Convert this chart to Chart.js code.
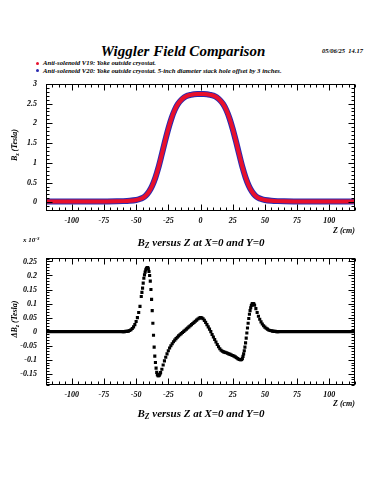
<!DOCTYPE html>
<html>
<head>
<meta charset="utf-8">
<script src="https://cdn.jsdelivr.net/npm/chart.js@4.4.0/dist/chart.umd.min.js"></script>
<style>
  body { margin: 0; background: #fff; width: 375px; height: 500px; position: relative; overflow: hidden;
         font-family: "Liberation Serif", "DejaVu Serif", serif; font-style: italic; font-weight: bold; color: #000; }
  .txt { position: absolute; white-space: nowrap; line-height: 1; }
  .c { transform: translate(-50%, -50%); }
  .dot { position: absolute; width: 3px; height: 3px; border-radius: 50%; }
  canvas { position: absolute; left: 0; }
  sub { font-size: 70%; vertical-align: -0.3em; }
  sup { font-size: 70%; vertical-align: 0.5em; }
</style>
</head>
<body>
<div class="txt c" style="left:183px; top:51px; font-size:15px;">Wiggler Field Comparison</div>
<div class="txt" style="left:322px; top:48px; font-size:6.5px;">05/06/25 &nbsp;14.17</div>

<div class="dot" style="left:36px; top:61.5px; background:#e8102c;"></div>
<div class="txt" style="left:43px; top:60px; font-size:6.7px;">Anti-solenoid V19: Yoke outside cryostat.</div>
<div class="dot" style="left:36px; top:69px; background:#2a2ab0;"></div>
<div class="txt" style="left:43px; top:67.5px; font-size:6.7px;">Anti-solenoid V20: Yoke outside cryostat. 5-inch diameter stack hole offset by 3 inches.</div>

<canvas id="topChart" width="375" height="160" style="top:70px;"></canvas>
<canvas id="botChart" width="375" height="160" style="top:244px;"></canvas>

<div class="txt c" style="left:16px; top:145px; font-size:8px; transform: translate(-50%,-50%) rotate(-90deg);">B<sub>z</sub> (Tesla)</div>
<div class="txt c" style="left:16px; top:319px; font-size:8px; transform: translate(-50%,-50%) rotate(-90deg);">&Delta;B<sub>z</sub> (Tesla)</div>

<div class="txt" style="right:20px; top:227px; font-size:8px;">Z (cm)</div>
<div class="txt c" style="left:201px; top:243px; font-size:11px;">B<sub>Z</sub> versus Z at X=0 and Y=0</div>
<div class="txt" style="left:23px; top:237px; font-size:7px;">x 10<sup>-3</sup></div>

<div class="txt" style="right:20px; top:400px; font-size:8px;">Z (cm)</div>
<div class="txt c" style="left:201px; top:414px; font-size:11px;">B<sub>Z</sub> versus Z at X=0 and Y=0</div>

<script>
// axis ticks
const xTicks = [-100, -75, -50, -25, 0, 25, 50, 75, 100];
const topYTicks = [0, 0.5, 1, 1.5, 2, 2.5, 3];
const botYTicks = [-0.15, -0.1, -0.05, 0, 0.05, 0.1, 0.15, 0.2, 0.25];

// top plot: Bz (Tesla) vs Z (cm)
const zTop = [-120, -100, -80, -65, -60, -55, -50,
  -47.5, -45, -42.5, -40, -37.5, -35, -32.5, -30, -27.5, -25, -22.5, -20, -17.5, -15, -12.5, -10, -7.5, -5, -2.5,
  0,
  2.5, 5, 7.5, 10, 12.5, 15, 17.5, 20, 22.5, 25, 27.5, 30, 32.5, 35, 37.5, 40, 42.5, 45, 47.5,
  50, 55, 60, 65, 80, 100, 120];
const bzV19 = [0.02, 0.02, 0.02, 0.025, 0.03, 0.04, 0.06,
  0.08, 0.11, 0.17, 0.27, 0.42, 0.63, 0.9, 1.22, 1.55, 1.86, 2.13, 2.34, 2.49, 2.59, 2.66, 2.7, 2.72, 2.735, 2.74,
  2.74,
  2.74, 2.735, 2.72, 2.7, 2.66, 2.59, 2.49, 2.34, 2.13, 1.86, 1.55, 1.22, 0.9, 0.63, 0.42, 0.27, 0.17, 0.11, 0.08,
  0.06, 0.04, 0.03, 0.025, 0.02, 0.02, 0.02];
const bzV20 = [0.02, 0.02, 0.02, 0.025, 0.03, 0.04, 0.06,
  0.08, 0.11, 0.17, 0.27, 0.42, 0.63, 0.9, 1.22, 1.55, 1.86, 2.13, 2.34, 2.49, 2.59, 2.66, 2.7, 2.72, 2.735, 2.74,
  2.74,
  2.74, 2.735, 2.72, 2.7, 2.66, 2.59, 2.49, 2.34, 2.13, 1.86, 1.55, 1.22, 0.9, 0.63, 0.42, 0.27, 0.17, 0.11, 0.08,
  0.06, 0.04, 0.03, 0.025, 0.02, 0.02, 0.02];

// bottom plot: delta Bz (x 10^-3 Tesla) vs Z (cm)
const deltaZ = [
  -60, -59, -58, -57, -56, -55, -54, -53, -52, -51, -50, -49, -48, -47,
  -46, -45.5, -45, -44.5, -44, -43.5, -43, -42.5, -42, -41.5, -41, -40.5, -40, -39.5, -39, -38.5,
  -38, -37.5, -37, -36.5, -36, -35.5, -35, -34.5, -34, -33.5, -33, -32.5, -32, -31.5, -31,
  -30, -29, -28, -27, -26, -25, -24, -23, -22, -21,
  -20, -19, -18, -17, -16, -15, -14, -13, -12, -11,
  -10, -9, -8, -7, -6, -5, -4, -3, -2, -1,
  0, 1, 2, 3, 4, 5, 6, 7, 8, 9,
  10, 11, 12, 13, 14, 15, 16, 17, 18, 19,
  20, 21, 22, 23, 24, 25, 26, 27, 28, 29, 30,
  31, 31.5, 32, 32.5, 33, 33.5, 34, 34.5, 35, 35.5, 36, 36.5, 37, 37.5, 38, 38.5,
  39, 39.5, 40, 40.5, 41, 41.5, 42,
  43, 44, 45, 46, 47, 48, 49, 50, 51, 52, 53, 54, 55, 56, 57, 58, 59, 60
];
const deltaBz = [
  0, 0, 0.001, 0.001, 0.002, 0.004, 0.007, 0.011, 0.017, 0.025, 0.036, 0.05, 0.068, 0.09,
  0.125, 0.14, 0.155, 0.173, 0.19, 0.202, 0.212, 0.22, 0.225, 0.228, 0.228, 0.224, 0.214, 0.2, 0.18, 0.15,
  0.115, 0.075, 0.03, -0.013, -0.055, -0.087, -0.11, -0.13, -0.145, -0.153, -0.157, -0.157, -0.155, -0.151, -0.146,
  -0.134, -0.119, -0.104, -0.091, -0.079, -0.068, -0.058, -0.05, -0.043, -0.036,
  -0.03, -0.025, -0.02, -0.015, -0.011, -0.007, -0.003, 0.001, 0.005, 0.009,
  0.013, 0.017, 0.021, 0.025, 0.029, 0.033, 0.037, 0.041, 0.045, 0.048,
  0.05, 0.049, 0.046, 0.04, 0.033, 0.025, 0.017, 0.009, 0.0, -0.01,
  -0.019, -0.028, -0.037, -0.046, -0.054, -0.061, -0.066, -0.07, -0.072, -0.074,
  -0.075, -0.077, -0.079, -0.081, -0.083, -0.085, -0.087, -0.09, -0.093, -0.096, -0.099,
  -0.1, -0.1, -0.099, -0.095, -0.088, -0.079, -0.068, -0.055, -0.04, -0.023, -0.005, 0.013, 0.03, 0.047, 0.062, 0.075,
  0.085, 0.093, 0.098, 0.1, 0.1, 0.098, 0.094,
  0.082, 0.068, 0.055, 0.044, 0.035, 0.027, 0.021, 0.016, 0.012, 0.009, 0.006, 0.004, 0.003, 0.002, 0.001, 0.001, 0, 0
];
// flat zero stretches outside the table
const flatLeftZ = [-120, -60];
const flatRightZ = [60, 120];
const flatB = [0, 0];

const tickFont = { family: '"Liberation Serif", serif', size: 8, style: 'italic', weight: 'bold' };

// ROOT-style frame with inward ticks on all four sides
const frameTicks = {
  id: 'frameTicks',
  afterDraw(chart, args, opts) {
    const { ctx, chartArea: a, scales: { x, y } } = chart;
    const L = Math.round(a.left) + 0.5, R = Math.round(a.right) - 0.5;
    const T = Math.round(a.top) + 0.5, B = Math.round(a.bottom) - 0.5;
    ctx.save();
    ctx.strokeStyle = '#000';
    ctx.lineWidth = 1;
    ctx.strokeRect(L, T, R - L, B - T);
    ctx.beginPath();
    const each = (scale, step, fn) => {
      for (let k = Math.ceil(scale.min / step - 1e-6); k * step <= scale.max + 1e-6; k++) fn(k * step);
    };
    const xMark = (len) => (v) => {
      const p = Math.round(x.getPixelForValue(v)) + 0.5;
      ctx.moveTo(p, B); ctx.lineTo(p, B - len);
      ctx.moveTo(p, T); ctx.lineTo(p, T + len);
    };
    const yMark = (len) => (v) => {
      const p = Math.round(y.getPixelForValue(v)) + 0.5;
      ctx.moveTo(L, p); ctx.lineTo(L + len, p);
      ctx.moveTo(R, p); ctx.lineTo(R - len, p);
    };
    each(x, opts.xMinor, xMark(3));
    each(x, opts.xMajor, xMark(6));
    each(y, opts.yMinor, yMark(3));
    each(y, opts.yMajor, yMark(6));
    ctx.stroke();
    ctx.restore();
  }
};

const makeOptions = (yMin, yMax, yTicks, yMajor, yMinor) => ({
  responsive: false,
  animation: false,
  events: [],
  layout: { padding: { left: 0, right: 20, top: 9, bottom: 0 } },
  plugins: {
    legend: { display: false },
    tooltip: { enabled: false },
    frameTicks: { xMajor: 25, xMinor: 5, yMajor, yMinor }
  },
  scales: {
    x: {
      type: 'linear', min: -120, max: 120,
      grid: { display: false, drawTicks: false },
      border: { display: false },
      afterBuildTicks: (s) => { s.ticks = xTicks.map(v => ({ value: v })); },
      afterFit: (s) => { s.height = 19; },
      ticks: { font: tickFont, color: '#000', padding: 5, maxRotation: 0, autoSkip: false }
    },
    y: {
      type: 'linear', min: yMin, max: yMax,
      grid: { display: false, drawTicks: false },
      border: { display: false },
      afterBuildTicks: (s) => { s.ticks = yTicks.map(v => ({ value: v })); },
      afterFit: (s) => { s.width = 46; },
      ticks: { font: tickFont, color: '#000', padding: 9, callback: (v) => String(v) }
    }
  }
});

// first dataset is painted last, so V19 (red) sits on top of V20 (blue)
const topChart = new Chart(document.getElementById('topChart'), {
  type: 'scatter',
  data: {
    datasets: [
      {
        label: 'Anti-solenoid V19',
        data: zTop.map((z, i) => ({ x: z, y: bzV19[i] })),
        showLine: true, borderColor: '#e8102c', borderWidth: 4, pointRadius: 0,
        cubicInterpolationMode: 'monotone'
      },
      {
        label: 'Anti-solenoid V20',
        data: zTop.map((z, i) => ({ x: z, y: bzV20[i] })),
        showLine: true, borderColor: '#2a2ab0', borderWidth: 6, pointRadius: 0,
        cubicInterpolationMode: 'monotone'
      }
    ]
  },
  options: makeOptions(-0.22, 3.0, topYTicks, 0.5, 0.1),
  plugins: [frameTicks]
});

const botChart = new Chart(document.getElementById('botChart'), {
  type: 'scatter',
  data: {
    datasets: [
      {
        data: deltaZ.map((z, i) => ({ x: z, y: deltaBz[i] })),
        showLine: false, pointStyle: 'rect', pointRadius: 2.2,
        backgroundColor: '#000', borderColor: '#000', borderWidth: 0
      },
      {
        data: flatLeftZ.map((z, i) => ({ x: z, y: flatB[i] })),
        showLine: true, borderColor: '#000', borderWidth: 3.2, pointRadius: 0
      },
      {
        data: flatRightZ.map((z, i) => ({ x: z, y: flatB[i] })),
        showLine: true, borderColor: '#000', borderWidth: 3.2, pointRadius: 0
      }
    ]
  },
  options: makeOptions(-0.19, 0.263, botYTicks, 0.05, 0.01),
  plugins: [frameTicks]
});
</script>
</body>
</html>
